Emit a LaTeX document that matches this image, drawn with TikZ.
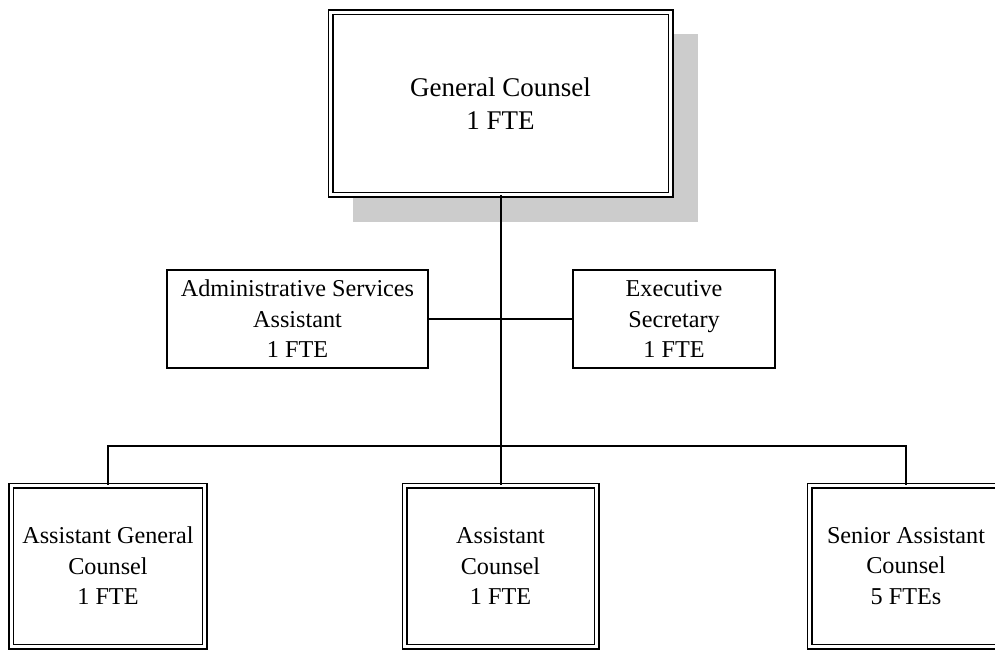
\documentclass[tikz,border=0pt]{standalone}
\usepackage{fontspec}
\setmainfont{Liberation Serif}
\definecolor{shadowgray}{RGB}{204,204,204}
\begin{document}
\begin{tikzpicture}[x=1bp,y=-1bp,
  box/.style={draw, line width=1.4bp, fill=white, align=center, inner sep=0pt,
    font=\fontsize{24.2bp}{30.5bp}\selectfont},
  dbox/.style={box, double=white, double distance=3bp, line width=1.5bp},
  link/.style={line width=1.4bp}]
  \useasboundingbox (0,0) rectangle (995,650);
  \clip (0,0) rectangle (995,650);

  % drop shadow behind the head box
  \fill[shadowgray] (353,34) rectangle (698,222);

  % head of the office
  \node[dbox, minimum width=340bp, minimum height=182bp,
    font=\fontsize{27bp}{33bp}\selectfont] (gc) at (500.5,103.5)
    {General Counsel\\1 FTE};

  % support staff
  \node[box, minimum width=261bp, minimum height=98bp] (asa) at (297.5,319)
    {Administrative Services\\Assistant\\1 FTE};
  \node[box, minimum width=202bp, minimum height=98bp] (es) at (674,319)
    {Executive\\Secretary\\1 FTE};

  % counsel staff
  \node[dbox, minimum width=193bp, minimum height=161bp] (agc) at (108,566)
    {Assistant General\\Counsel\\1 FTE};
  \node[dbox, minimum width=192bp, minimum height=161bp] (ac) at (500.5,566)
    {Assistant\\Counsel\\1 FTE};
  \node[dbox, minimum width=193bp, minimum height=161bp] (sac) at (906,566)
    {Senior Assistant\\Counsel\\5 FTEs};

  % connectors
  \coordinate (bus) at (501,446);
  \draw[link] (gc.south -| bus) -- (bus);
  \draw[link] (asa.east) -- (es.west);
  \draw[link] (agc.north) -- (agc.north |- bus) -- (sac.north |- bus) -- (sac.north);
  \draw[link] (bus) -- (ac.north -| bus);
\end{tikzpicture}
\end{document}
